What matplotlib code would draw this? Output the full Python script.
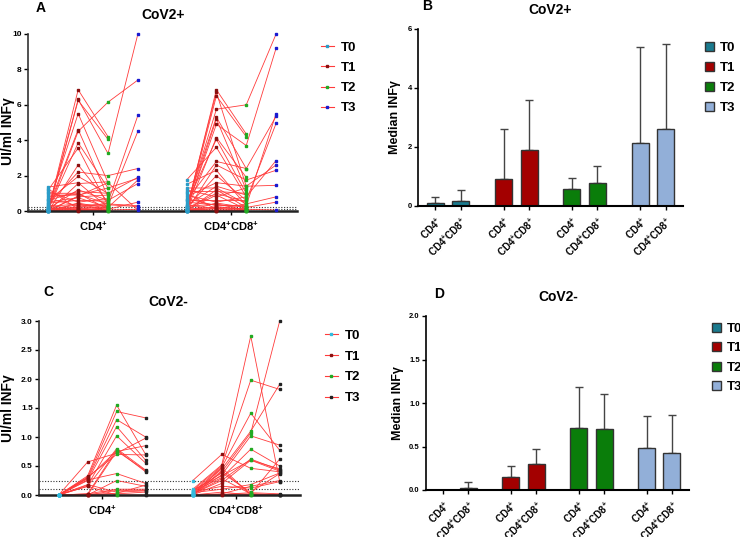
import numpy as np
import matplotlib
matplotlib.use("Agg")
import matplotlib.pyplot as plt
from matplotlib.lines import Line2D
from matplotlib.patches import Patch

nan = np.nan
plt.rcParams['font.family'] = ['Liberation Sans', 'DejaVu Sans']
plt.rcParams['font.weight'] = 'bold'
plt.rcParams['mathtext.fontset'] = 'custom'
plt.rcParams['mathtext.rm'] = 'Liberation Sans:bold'
plt.rcParams['mathtext.bf'] = 'Liberation Sans:bold'
plt.rcParams['mathtext.it'] = 'Liberation Sans:bold'

# ---------------- data ----------------
timepoints = ["T0", "T1", "T2", "T3"]
cell_types = ["CD4$^{+}$", "CD4$^{+}$CD8$^{+}$"]

# Panel A (CoV2+) individual values, CD4+
a_cd4_t0 = [0.05, 0.10, 0.00, 0.30, 0.20, 0.05, 0.10, 1.20, 0.00, 0.40, 0.60, 1.35, 0.00, 0.15, 1.00, 0.80, 0.00, 0.05,
            0.50, 0.90, 1.10, 0.00, 0.25, 0.70, 0.00, 0.10, 0.05, 1.25, 0.00, 0.35, 0.15, 0.00, 0.45, 0.02, 0.60, 0.08]
a_cd4_t1 = [6.85, 6.30, 6.25, 5.50, 4.60, 4.50, 3.85, 3.55, 2.60, 2.20, 1.95, 1.60, 1.55, 1.20, 1.00, 0.95, 0.85, 0.80,
            0.75, 0.90, 0.50, 0.45, 0.40, 0.30, 0.25, 0.20, 0.15, 0.10, 0.10, 0.05, 0.05, 0.02, 0.60, 0.00, 1.10, 0.35]
a_cd4_t2 = [4.20, 3.25, 4.05, 1.60, 0.80, 6.15, 1.30, 0.30, 0.50, 2.00, 1.00, 0.20, 1.65, 0.60, 0.10, 0.40, 1.60, 0.90,
            0.20, 1.30, 0.70, 0.15, 0.05, 0.30, 0.10, 0.45, 0.00, 0.25, 0.05, 0.10, 0.00, 0.20, 0.55, 0.00, 1.00, 0.35]
a_cd4_t3 = [nan, 10.0, nan, nan, nan, 7.40, nan, 4.50, 5.40, 2.40, 1.90, 1.75, nan, 1.55, 0.50, 0.30, 0.05, nan,
            nan, 1.85, nan, nan, 0.10, nan, nan, nan, nan, nan, nan, nan, nan, nan, nan, nan, nan, 0.25]

# Panel A (CoV2+) individual values, CD4+CD8+
a_dp_t0 = [0.05, 0.10, 0.00, 0.20, 0.30, 0.05, 0.10, 0.00, 0.40, 1.75, 0.60, 0.00, 1.50, 0.20, 0.80, 1.30, 0.00, 1.10,
           0.15, 0.05, 0.90, 0.00, 0.25, 0.70, 0.10, 0.00, 1.00, 0.35, 0.05, 0.50, 0.00, 0.15, 0.60, 0.02, 1.20, 0.08, 0.00, 0.30]
a_dp_t1 = [6.85, 6.70, 6.50, 5.75, 5.30, 5.20, 4.90, 4.15, 4.05, 3.60, 2.80, 2.60, 2.30, 2.00, 1.60, 1.30, 1.20, 1.10,
           1.00, 0.90, 0.50, 0.45, 0.40, 0.30, 0.20, 0.15, 0.10, 0.10, 0.05, 0.35, 0.02, 0.00, 0.60, 0.25, 0.80, 0.05, 0.00, 1.40]
a_dp_t2 = [4.35, 1.40, 4.20, 6.00, 2.40, 1.20, 3.70, 1.90, 1.00, 0.80, 2.40, 1.75, 0.30, 0.60, 1.40, 0.40, 0.20, 1.00,
           0.50, 0.10, 0.80, 0.20, 0.05, 0.30, 0.10, 0.00, 0.40, 0.15, 0.05, 0.25, 0.00, 0.10, 0.60, 0.05, 1.30, 0.00, 0.00, 0.90]
a_dp_t3 = [nan, 2.60, nan, 10.0, 5.35, nan, 9.20, nan, nan, 2.85, nan, 2.30, 5.50, 4.95, 1.45, 0.80, 0.50, nan,
           nan, 0.05, nan, nan, nan, nan, nan, nan, nan, nan, nan, nan, nan, nan, nan, nan, nan, nan, nan, nan]

# Panel C (CoV2-) individual values, CD4+
c_cd4_t0 = [0.00] * 20
c_cd4_t1 = [0.57, 0.33, 0.30, 0.28, 0.25, 0.17, 0.15, 0.02, 0.00, 0.31, 0.26, 0.00, 0.02, 0.00, 0.18, 0.29, 0.00, 0.01, 0.15, 0.00]
c_cd4_t2 = [0.72, 1.55, 1.44, 1.30, 1.18, 1.02, 0.80, 0.78, 0.75, 0.70, 0.37, 0.25, 0.10, 0.08, 0.05, 0.76, 0.00, 0.03, 0.00, 0.02]
c_cd4_t3 = [0.98, 0.70, 1.33, 1.00, 0.60, 0.55, 0.43, 0.40, 0.85, 0.69, 0.20, 0.15, 0.10, 0.08, 0.07, 0.42, 0.00, 0.17, 0.00, 0.05]

# Panel C (CoV2-) individual values, CD4+CD8+
c_dp_t0 = [0.25, 0.10, 0.08, 0.05, 0.03, 0.00, 0.00, 0.06, 0.02, 0.00, 0.04, 0.00, 0.07, 0.00, 0.01, 0.00, 0.05, 0.00, 0.09, 0.00, 0.02, 0.00]
c_dp_t1 = [0.70, 0.52, 0.50, 0.48, 0.45, 0.40, 0.35, 0.30, 0.25, 0.20, 0.10, 0.02, 0.38, 0.42, 0.47, 0.00, 0.15, 0.00, 0.33, 0.05, 0.28, 0.01]
c_dp_t2 = [0.46, 2.74, 1.98, 1.41, 1.10, 1.07, 1.02, 0.79, 0.62, 0.60, 0.18, 0.15, 0.05, 0.02, 0.00, 0.00, 0.12, 0.02, 0.60, 0.00, 0.02, 0.04]
c_dp_t3 = [0.40, 0.23, 1.82, 0.77, 1.91, 3.00, 0.86, 0.50, 0.43, 0.41, 0.38, 0.25, 0.37, 0.62, 0.00, 0.00, 0.23, 0.00, 0.45, 0.00, 0.00, 0.02]

# Panel B (CoV2+) medians and upper error, order: T0 CD4, T0 DP, T1 CD4, T1 DP, ...
b_median = [0.09, 0.17, 0.93, 1.91, 0.58, 0.77, 2.13, 2.60]
b_upper = [0.32, 0.55, 2.60, 3.59, 0.94, 1.35, 5.38, 5.48]
# Panel D (CoV2-)
d_median = [0.00, 0.023, 0.15, 0.30, 0.71, 0.70, 0.48, 0.42]
d_upper = [0.00, 0.095, 0.28, 0.47, 1.18, 1.10, 0.85, 0.86]

thresholds = [0.10, 0.25]

# ---------------- style ----------------
W, H = 740, 537
fig = plt.figure(figsize=(W / 100, H / 100), dpi=100)

def fax(l, r, t, b):
    return fig.add_axes([l / W, 1 - b / H, (r - l) / W, (b - t) / H])

line_red = '#ff3b3b'
mk_A = ['#2a9cc8', '#8b1010', '#22aa22', '#1a1ad0']
mk_C = ['#33bbdd', '#8b1010', '#22aa22', '#222222']
bar_cols = ['#1a7a8e', '#a30000', '#0a7d0a', '#92afd8']

grp_off = [0.0, 4.63]

def spaghetti(ax, groups, mcols, ymax, yticks, yfmt):
    for g, series in enumerate(groups):
        xs = np.arange(4) + grp_off[g]
        arr = np.array(series, dtype=float).T  # subjects x 4
        for row in arr:
            ax.plot(xs, row, color=line_red, lw=0.6, zorder=2, clip_on=False)
        for k in range(4):
            v = np.array(series[k], dtype=float)
            v = v[~np.isnan(v)]
            ax.plot(np.full(len(v), xs[k]), v, ls='none', marker='s', ms=1.6,
                    color=mcols[k], mec=mcols[k], zorder=3, clip_on=False)
    for th in thresholds:
        ax.axhline(th, color='#333333', ls=(0, (1, 1.5)), lw=0.8, zorder=1)
    ax.set_xlim(-0.68, 8.33)
    ax.set_ylim(0, ymax)
    ax.set_yticks(yticks)
    ax.set_yticklabels([yfmt.format(v) for v in yticks], fontsize=6, fontweight='bold')
    ax.set_xticks([1.5, 6.13])
    ax.set_xticklabels(cell_types, fontsize=8, fontweight='bold')
    ax.tick_params(axis='x', length=3, width=1.0)
    ax.tick_params(axis='y', length=3, width=1.0, pad=1.5)
    for s in ['top', 'right']:
        ax.spines[s].set_visible(False)
    ax.spines['left'].set_linewidth(1.2)
    ax.spines['bottom'].set_linewidth(1.8)
    ax.spines['left'].set_color('#333333')
    ax.spines['bottom'].set_color('#222222')
    ax.set_ylabel('UI/ml INF\u03b3', fontsize=10, fontweight='bold')

def bars(ax, med, up, ymax, yticks, yfmt):
    pos = np.array([0, 1, 2.67, 3.67, 5.33, 6.33, 8, 9])
    cols = [bar_cols[i // 2] for i in range(8)]
    err = np.array(up) - np.array(med)
    ax.bar(pos, med, width=0.67, color=cols, edgecolor='#333333', linewidth=1.0, zorder=2)
    ax.errorbar(pos, med, yerr=[np.zeros(8), err], fmt='none', ecolor='#444444',
                elinewidth=1.0, capsize=3, capthick=1.0, zorder=1)
    ax.set_xlim(-0.67, 9.67)
    ax.set_ylim(0, ymax)
    ax.set_yticks(yticks)
    ax.set_yticklabels([yfmt.format(v) for v in yticks], fontsize=5.5, fontweight='bold')
    ax.set_xticks(pos)
    ax.set_xticklabels([cell_types[i % 2] for i in range(8)], rotation=45, ha='right',
                       rotation_mode='anchor', fontsize=7, fontweight='bold')
    ax.tick_params(axis='x', length=3, width=1.0)
    ax.tick_params(axis='y', length=3, width=1.0, pad=1.5)
    for s in ['top', 'right']:
        ax.spines[s].set_visible(False)
    ax.spines['left'].set_linewidth(1.2)
    ax.spines['bottom'].set_linewidth(1.5)
    ax.set_ylabel('Median INF\u03b3', fontsize=9, fontweight='bold')

# Panel A
axA = fax(28, 297, 34, 211)
spaghetti(axA, [[a_cd4_t0, a_cd4_t1, a_cd4_t2, a_cd4_t3], [a_dp_t0, a_dp_t1, a_dp_t2, a_dp_t3]],
          mk_A, 10, [0, 2, 4, 6, 8, 10], '{:.0f}')
axA.yaxis.set_label_coords(-0.05, 0.45)

# Panel C
axC = fax(39, 300, 321, 495)
spaghetti(axC, [[c_cd4_t0, c_cd4_t1, c_cd4_t2, c_cd4_t3], [c_dp_t0, c_dp_t1, c_dp_t2, c_dp_t3]],
          mk_C, 3, [0, 0.5, 1.0, 1.5, 2.0, 2.5, 3.0], '{:.1f}')
axC.yaxis.set_label_coords(-0.093, 0.5)

# Panel B
axB = fax(418, 683, 29, 206)
bars(axB, b_median, b_upper, 6, [0, 2, 4, 6], '{:.0f}')
axB.yaxis.set_label_coords(-0.066, 0.5)

# Panel D
axD = fax(426, 689, 316, 490)
bars(axD, d_median, d_upper, 2, [0, 0.5, 1.0, 1.5, 2.0], '{:.1f}')
axD.yaxis.set_label_coords(-0.082, 0.5)

# Legends
def line_handles(mcols):
    return [Line2D([0], [0], color=line_red, lw=0.8, marker='s', ms=2, mfc=c, mec=c) for c in mcols]

def patch_handles():
    return [Patch(facecolor=c, edgecolor='#333333', linewidth=1.0) for c in bar_cols]

lkw = dict(frameon=False, prop={'weight': 'bold', 'size': 9.5}, borderpad=0,
           loc='upper left', bbox_transform=fig.transFigure)
axA.legend(line_handles(mk_A), timepoints, bbox_to_anchor=(314 / W, 1 - 35 / H),
           handlelength=1.0, handletextpad=0.5, labelspacing=0.6, **lkw)
axC.legend(line_handles(mk_C), timepoints, bbox_to_anchor=(318 / W, 1 - 323 / H),
           handlelength=1.0, handletextpad=0.5, labelspacing=0.65, **lkw)
axB.legend(patch_handles(), timepoints, bbox_to_anchor=(698 / W, 1 - 35 / H),
           handlelength=0.7, handleheight=0.7, handletextpad=0.45, labelspacing=0.6, **lkw)
axD.legend(patch_handles(), timepoints, bbox_to_anchor=(705 / W, 1 - 316 / H),
           handlelength=0.7, handleheight=0.7, handletextpad=0.45, labelspacing=0.55, **lkw)

# Panel letters and titles
def ftxt(x, y, s, size, ha='center'):
    fig.text(x / W, 1 - y / H, s, fontsize=size, fontweight='bold', ha=ha, va='center')

ftxt(36, 8, 'A', 10, ha='left')
ftxt(163, 15, 'CoV2+', 10)
ftxt(422, 6, 'B', 10, ha='left')
ftxt(550, 10, 'CoV2+', 10)
ftxt(43, 292, 'C', 10, ha='left')
ftxt(168, 302, 'CoV2-', 10)
ftxt(434, 294, 'D', 10, ha='left')
ftxt(558, 297, 'CoV2-', 10)

fig.savefig('out.png', dpi=100)
